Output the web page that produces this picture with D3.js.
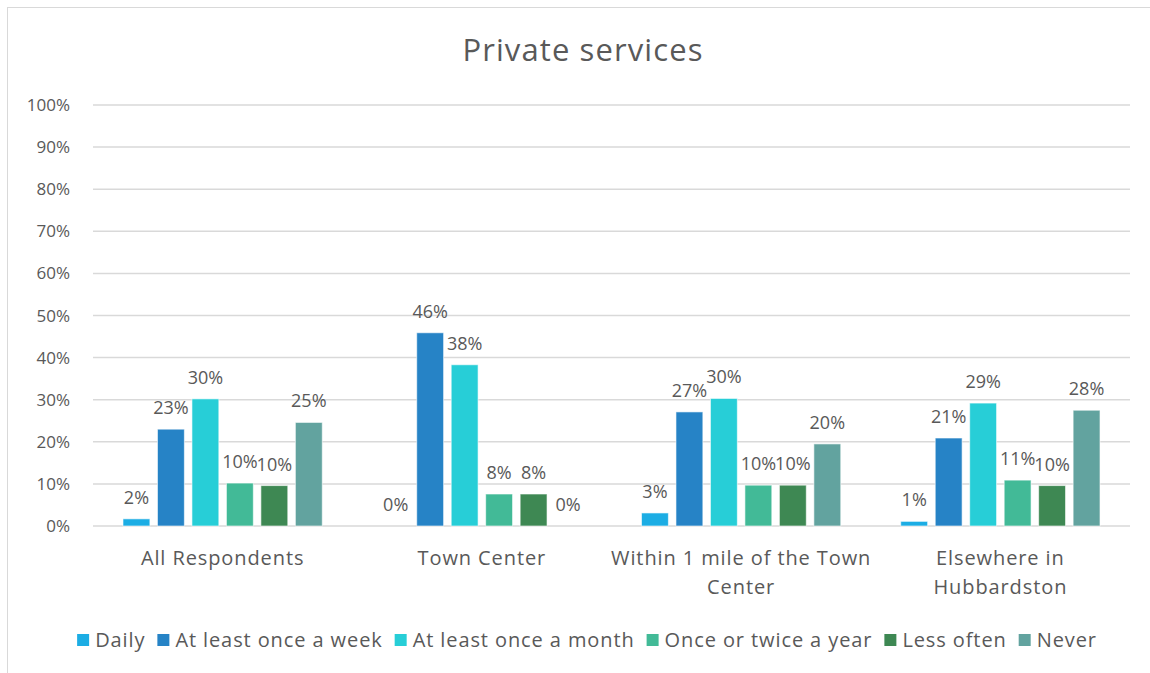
<!DOCTYPE html>
<meta charset="utf-8">
<head>
  <style>
    body { margin: 0; background: #fff; }
    svg text { font-family: "Open Sans", Lato, sans-serif; fill: #595959; }
    .grid line { stroke: #d9d9d9; stroke-width: 1.5; }
    .wide { letter-spacing: 0.9px; }
  </style>
</head>
<body>
<svg id="chart" width="1150" height="673"></svg>
<script src="https://d3js.org/d3.v7.min.js"></script>
<script>

var categories = ["All Respondents", "Town Center", "Within 1 mile of the Town\nCenter", "Elsewhere in\nHubbardston"];
var seriesNames = ["Daily", "At least once a week", "At least once a month", "Once or twice a year", "Less often", "Never"];
var seriesColors = ["#1cade4", "#2683c6", "#27ced7", "#42ba97", "#3e8853", "#62a39f"];
// one array per series, values in % for each category (labels are rounded)
var daily   = [1.7, 0, 3.1, 1.1];
var weekly  = [23.0, 45.9, 27.1, 20.9];
var monthly = [30.2, 38.3, 30.3, 29.2];
var yearly  = [10.2, 7.6, 9.7, 10.9];
var less    = [9.6, 7.6, 9.7, 9.6];
var never   = [24.6, 0, 19.5, 27.5];
var yTicks = [0, 10, 20, 30, 40, 50, 60, 70, 80, 90, 100];

var values = [daily, weekly, monthly, yearly, less, never];

var svg = d3.select("#chart");

// outer chart border (cut off on right/bottom like the screenshot)
svg.append("rect")
  .attr("x", 7.5).attr("y", 7.5)
  .attr("width", 1160).attr("height", 680)
  .attr("fill", "none").attr("stroke", "#d9d9d9");

var x0 = d3.scaleBand()
  .domain(categories)
  .range([93, 1130]);

var x1 = d3.scaleBand()
  .domain(seriesNames)
  .range([0, x0.bandwidth()])
  .paddingInner(0.22)
  .paddingOuter(0.87);

var y = d3.scaleLinear()
  .domain([0, 100])
  .range([526, 105]);

svg.append("text")
  .attr("x", 583).attr("y", 61)
  .attr("text-anchor", "middle")
  .style("font-size", "31px")
  .style("letter-spacing", "1.1px")
  .text("Private services");

// gridlines
svg.append("g").attr("class", "grid")
  .selectAll("line").data(yTicks).enter().append("line")
  .attr("x1", 93).attr("x2", 1130)
  .attr("y1", function(d) { return y(d); })
  .attr("y2", function(d) { return y(d); });

// y tick labels
svg.append("g")
  .selectAll("text").data(yTicks).enter().append("text")
  .attr("x", 70)
  .attr("y", function(d) { return y(d) + 6; })
  .attr("text-anchor", "end")
  .style("font-size", "17px")
  .text(function(d) { return d + "%"; });

var groups = svg.append("g").selectAll("g").data(categories).enter().append("g")
  .attr("transform", function(d) { return "translate(" + x0(d) + ",0)"; });

groups.each(function(cat, ci) {
  var g = d3.select(this);
  var rows = seriesNames.map(function(s, si) { return { s: s, si: si, v: values[si][ci] }; });

  g.selectAll("rect").data(rows).enter().append("rect")
    .attr("x", function(d) { return x1(d.s); })
    .attr("width", x1.bandwidth())
    .attr("y", function(d) { return y(d.v); })
    .attr("height", function(d) { return y(0) - y(d.v); })
    .attr("fill", function(d) { return seriesColors[d.si]; })
    .attr("stroke", "#ffffff").attr("stroke-opacity", 0.6).attr("stroke-width", 1);

  g.selectAll("text.lbl").data(rows).enter().append("text")
    .attr("class", "lbl")
    .attr("x", function(d) { return x1(d.s) + x1.bandwidth() / 2; })
    .attr("y", function(d) { return y(d.v) - 15; })
    .attr("text-anchor", "middle")
    .style("font-size", "18px")
    .text(function(d) { return Math.round(d.v) + "%"; });

  var t = g.append("text")
    .attr("class", "wide")
    .attr("text-anchor", "middle")
    .style("font-size", "20px");
  cat.split("\n").forEach(function(line, li) {
    t.append("tspan")
      .attr("x", x0.bandwidth() / 2)
      .attr("y", 565 + li * 29)
      .text(line);
  });
});

// legend, laid out by measured text widths and centred
var legend = svg.append("g");
var lx = 0;
seriesNames.forEach(function(name, i) {
  var item = legend.append("g").attr("transform", "translate(" + lx + ",0)");
  item.append("rect").attr("x", 0).attr("y", -6).attr("width", 12).attr("height", 12)
    .attr("fill", seriesColors[i]);
  var txt = item.append("text").attr("class", "wide").attr("x", 18).attr("y", 7)
    .style("font-size", "20px").text(name);
  lx += 18 + txt.node().getComputedTextLength() + 12;
});
lx -= 12;
legend.attr("transform", "translate(" + (587 - lx / 2) + ",640)");

</script>
</body>
